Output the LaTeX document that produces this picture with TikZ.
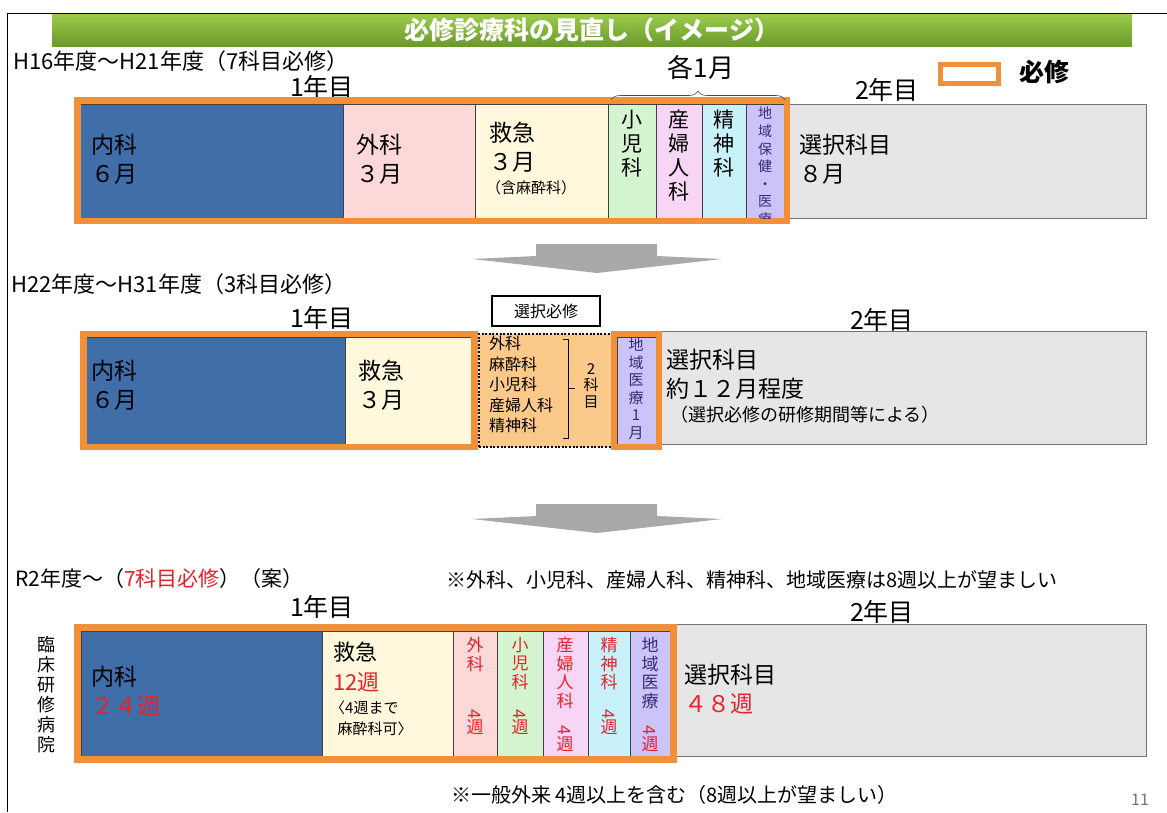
\documentclass[tikz,border=0pt]{standalone}
\usepackage{fontspec}
\setmainfont{Noto Sans CJK JP}
\usetikzlibrary{decorations.pathreplacing}
\definecolor{blueM}{HTML}{3F6EA9}
\definecolor{pinkM}{HTML}{FCD8D8}
\definecolor{yelM}{HTML}{FFF8DC}
\definecolor{grnM}{HTML}{D4F5D0}
\definecolor{vioM}{HTML}{F6D6F4}
\definecolor{cyaM}{HTML}{C9F1FA}
\definecolor{lavM}{HTML}{CCC3F9}
\definecolor{grayM}{HTML}{E6E6E6}
\definecolor{orgM}{HTML}{F0913A}
\definecolor{orgF}{HTML}{FBC98A}
\definecolor{arrM}{HTML}{A9A9A9}
\definecolor{redM}{HTML}{E8202A}
\definecolor{purM}{HTML}{3A2A7A}
\definecolor{grnT}{HTML}{9CCB4C}
\definecolor{grnB}{HTML}{6A9A2A}
\tikzset{
  cell/.style={draw=black!75, line width=0.7pt, anchor=north west, inner sep=0, outer sep=0},
  graycell/.style={draw=black!55, line width=0.9pt, fill=grayM, anchor=north west, inner sep=0, outer sep=0},
  must/.style={draw=orgM, line width=6.5pt},
  head/.style={anchor=west, inner sep=0, font=\fontsize{22}{24}\selectfont},
  year/.style={anchor=center, inner sep=0, font=\fontsize{25}{28}\selectfont},
  lbl/.style={anchor=north west, inner sep=0, align=left, font=\fontsize{23}{29}\selectfont},
  vert/.style={anchor=north, inner sep=0, align=center, font=\fontsize{21}{24}\selectfont},
  vred/.style={anchor=north, inner sep=0, align=center, text=redM, font=\fontsize{17}{18.6}\selectfont},
  vsmall/.style={anchor=north, inner sep=0, align=center, font=\fontsize{14}{17.6}\selectfont, text=purM},
  bigarrow/.style={fill=arrM},
}
\begin{document}
\begin{tikzpicture}[x=1pt,y=-1pt]
\useasboundingbox (0,0) rectangle (1167,812);
% frame
\draw[line width=0.8pt] (7,812) -- (7,13) -- (1167,13);
% title
\node[top color=grnT, bottom color=grnB, minimum width=1080, minimum height=32, inner sep=0, anchor=north west,
      text=white, font=\bfseries\fontsize{25}{27}\selectfont] (title) at (52,14) {必修診療科の見直し（イメージ）};

% ---------------- Row 1 ----------------
\node[head] (h1) at (13,61) {H16年度～H21年度（7科目必修）};
\node[year] (y11) at (322,87) {1年目};
\node[year] (y12) at (887,90) {2年目};
\node[anchor=center, inner sep=0, font=\fontsize{26}{28}\selectfont] (each) at (701,68) {各1月};
\node[draw=orgM, line width=5pt, minimum width=58, minimum height=19, inner sep=0] (legbox) at (969,74) {};
\node[anchor=west, inner sep=0, font=\bfseries\fontsize{25}{27}\selectfont] (legtxt) at (1019,72) {必修};

\node[graycell, minimum width=362, minimum height=114] (sen1) at (784,104) {};
\node[cell, fill=blueM, minimum width=263, minimum height=114] (nai1) at (80,104) {};
\node[cell, fill=pinkM, minimum width=132, minimum height=114] (ge1) at (343,104) {};
\node[cell, fill=yelM, minimum width=133, minimum height=114] (kyu1) at (475,104) {};
\node[cell, fill=grnM, minimum width=48, minimum height=114] (sho1) at (608,104) {};
\node[cell, fill=vioM, minimum width=46, minimum height=114] (san1) at (656,104) {};
\node[cell, fill=cyaM, minimum width=44, minimum height=114] (sei1) at (702,104) {};
\node[cell, fill=lavM, minimum width=38, minimum height=114] (chi1) at (746,104) {};
\draw[must] (77.5,100.5) rectangle (787,221);
\draw[decorate, decoration={brace, amplitude=9pt}, line width=0.6pt, draw=black!70] (611,100) -- (785,100);

\node[lbl] (t_nai1) at (91,134) {内科\\ ６月};
\node[lbl] (t_ge1) at (356,134) {外科\\ ３月};
\node[lbl] (t_kyu1) at (489,122) {救急\\ ３月};
\node[anchor=north west, inner sep=0, font=\fontsize{15}{17}\selectfont] (t_kyu1b) at (486,180) {（含麻酔科）};
\node[vert] (t_sho1) at (632,110) {小\\児\\科};
\node[vert] (t_san1) at (679,110) {産\\婦\\人\\科};
\node[vert] (t_sei1) at (724,110) {精\\神\\科};
\begin{scope}
\clip (746,104) rectangle (784,218);
\node[vsmall] (t_chi1) at (765,107) {地\\域\\保\\健\\・\\医\\療};
\end{scope}
\node[lbl] (t_sen1) at (799,134) {選択科目\\ ８月};

% arrow 1
\fill[bigarrow] (536,244) -- (657,244) -- (657,256) -- (722,259) -- (597,273) -- (472,259) -- (536,256) -- cycle;

% ---------------- Row 2 ----------------
\node[head] (h2) at (11,284) {H22年度～H31年度（3科目必修）};
\node[year] (y21) at (322,318) {1年目};
\node[year] (y22) at (882,320) {2年目};

\node[graycell, minimum width=487, minimum height=113] (sen2) at (659,331) {};
\node[cell, fill=blueM, minimum width=259, minimum height=107] (nai2) at (86,337) {};
\node[cell, fill=yelM, minimum width=127, minimum height=107] (kyu2) at (345,337) {};
\draw[must] (83.5,334) rectangle (474.5,447);
\node[fill=orgF, draw=black, line width=2pt, dash pattern=on 2pt off 1.6pt, minimum width=133, minimum height=113,
      anchor=north west, inner sep=0] (opt2) at (478,333) {};
\node[cell, fill=lavM, minimum width=39, minimum height=107] (chi2) at (617,337) {};
\draw[must] (614,334) rectangle (659,447);
\node[draw=black, line width=2pt, fill=white, minimum width=108, minimum height=30, inner sep=0,
      font=\fontsize{16}{18}\selectfont] (selhis) at (546,311) {選択必修};

\node[lbl] (t_nai2) at (91,360) {内科\\ ６月};
\node[lbl] (t_kyu2) at (358,360) {救急\\ ３月};
\node[anchor=north west, inner sep=0, align=left, font=\fontsize{16}{20.5}\selectfont] (t_opt2) at (489,336) {外科\\麻酔科\\小児科\\産婦人科\\精神科};
\draw[line width=0.7pt] (563,339) -- (568,339) -- (568,438) -- (563,438);
\draw[line width=0.7pt] (568,388) -- (575,388);
\node[anchor=center, inner sep=0, align=center, font=\fontsize{15}{16.5}\selectfont] (t_two2) at (591,386) {2\\科\\目};
\node[vsmall, font=\fontsize{15}{17.5}\selectfont] (t_chi2) at (636,338) {地\\域\\医\\療\\1\\月};
\node[anchor=north west, inner sep=0, align=left, font=\fontsize{23}{29}\selectfont] (t_sen2) at (666,349) {選択科目\\約１２月程度};
\node[anchor=north west, inner sep=0, font=\fontsize{18}{20}\selectfont] (t_sen2b) at (670,406) {（選択必修の研修期間等による）};

% arrow 2
\fill[bigarrow] (536,504) -- (657,504) -- (657,516) -- (722,519) -- (597,533) -- (472,519) -- (536,516) -- cycle;

% ---------------- Row 3 ----------------
\node[anchor=west, inner sep=0, font=\fontsize{21}{24}\selectfont] (h3) at (15,579) {R2年度～（\textcolor{redM}{7科目必修}）（案）};
\node[anchor=west, inner sep=0, font=\fontsize{20}{22}\selectfont] (note3) at (446,580) {※外科、小児科、産婦人科、精神科、地域医療は8週以上が望ましい};
\node[year] (y31) at (322,607) {1年目};
\node[year] (y32) at (882,612) {2年目};
\node[anchor=north, inner sep=0, align=center, font=\fontsize{18}{20}\selectfont] (hosp) at (46,636) {臨\\床\\研\\修\\病\\院};

\node[graycell, minimum width=476, minimum height=132] (sen3) at (670,624) {};
\node[cell, fill=blueM, minimum width=241, minimum height=125] (nai3) at (81,631) {};
\node[cell, fill=yelM, minimum width=131, minimum height=125] (kyu3) at (322,631) {};
\node[cell, fill=pinkM, minimum width=44, minimum height=125] (ge3) at (453,631) {};
\node[cell, fill=grnM, minimum width=46, minimum height=125] (sho3) at (497,631) {};
\node[cell, fill=vioM, minimum width=45, minimum height=125] (san3) at (543,631) {};
\node[cell, fill=cyaM, minimum width=42, minimum height=125] (sei3) at (588,631) {};
\node[cell, fill=lavM, minimum width=40, minimum height=125] (chi3) at (630,631) {};
\draw[must] (77.5,627.5) rectangle (673.5,759.5);

\node[lbl] (t_nai3) at (91,666) {内科\\ \textcolor{redM}{２４週}};
\node[anchor=north west, inner sep=0, align=left, font=\fontsize{22}{30}\selectfont] (t_kyu3) at (333,642) {救急\\ \textcolor{redM}{12週}};
\node[anchor=north west, inner sep=0, align=left, font=\fontsize{15}{21}\selectfont] (t_kyu3b) at (330,701) {〈4週まで\\ \hspace{0.5em}麻酔科可〉};
\node[vred] (t_ge3a) at (475,637) {外\\科};
\node[vred] (t_ge3b) at (475,709) {\rotatebox{-90}{4}\\週};
\node[vred] (t_sho3a) at (520,637) {小\\児\\科};
\node[vred] (t_sho3b) at (520,709) {\rotatebox{-90}{4}\\週};
\node[vred] (t_san3) at (565,637) {産\\婦\\人\\科\\\rotatebox{-90}{4}\\週};
\node[vred] (t_sei3a) at (609,637) {精\\神\\科};
\node[vred] (t_sei3b) at (609,709) {\rotatebox{-90}{4}\\週};
\node[vred, text=purM] (t_chi3) at (650,637) {地\\域\\医\\療\\\textcolor{redM}{\rotatebox{-90}{4}}\\\textcolor{redM}{週}};
\node[lbl] (t_sen3) at (684,664) {選択科目\\ \textcolor{redM}{４８週}};

\node[anchor=west, inner sep=0, font=\fontsize{20}{22}\selectfont] (foot) at (451,795) {※一般外来 4週以上を含む（8週以上が望ましい）};
\node[anchor=west, inner sep=0, text=black!55, font=\fontsize{16}{18}\selectfont] (pageno) at (1131,800) {11};
\end{tikzpicture}
\end{document}
